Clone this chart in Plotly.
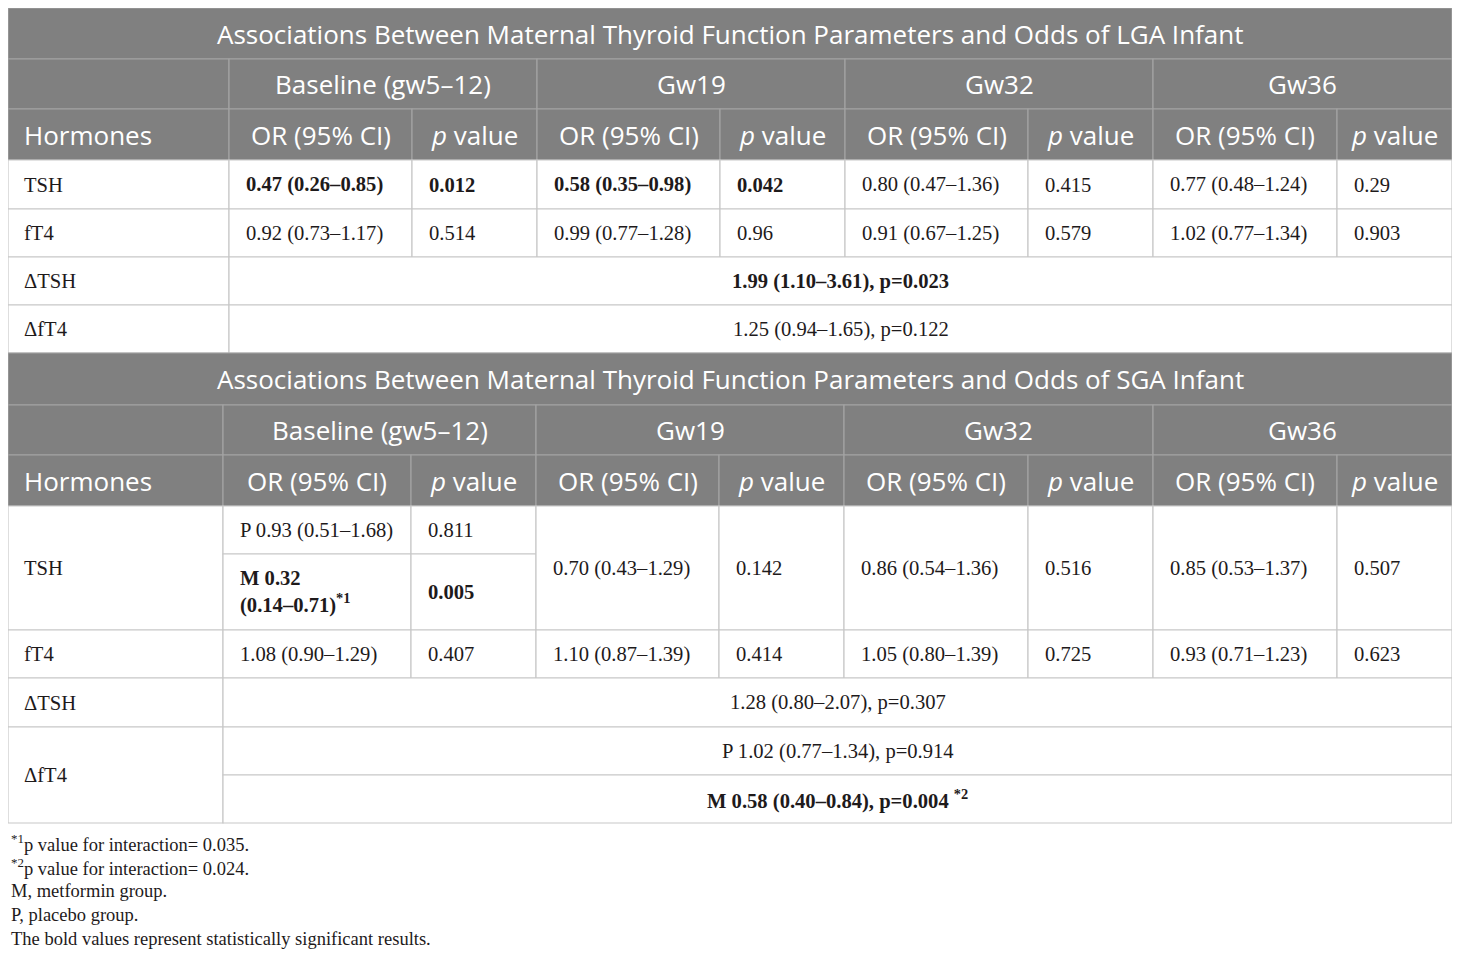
import plotly.graph_objects as go

# ---------------- data ----------------
timepoints = ["Baseline (gw5–12)", "Gw19", "Gw32", "Gw36"]
sub_headers = ["OR (95% CI)", "<i>p</i> value"]
row_header = "Hormones"

lga_title = "Associations Between Maternal Thyroid Function Parameters and Odds of LGA Infant"
lga_hormones = ["TSH", "fT4"]
lga_or = [
    ["0.47 (0.26–0.85)", "0.58 (0.35–0.98)", "0.80 (0.47–1.36)", "0.77 (0.48–1.24)"],
    ["0.92 (0.73–1.17)", "0.99 (0.77–1.28)", "0.91 (0.67–1.25)", "1.02 (0.77–1.34)"],
]
lga_p = [
    ["0.012", "0.042", "0.415", "0.29"],
    ["0.514", "0.96", "0.579", "0.903"],
]
lga_bold = [
    [True, True, False, False],
    [False, False, False, False],
]
lga_delta_labels = ["ΔTSH", "ΔfT4"]
lga_delta_vals = ["1.99 (1.10–3.61), p=0.023", "1.25 (0.94–1.65), p=0.122"]
lga_delta_bold = [True, False]

sga_title = "Associations Between Maternal Thyroid Function Parameters and Odds of SGA Infant"
sga_tsh_or = ["P 0.93 (0.51–1.68)", "0.70 (0.43–1.29)", "0.86 (0.54–1.36)", "0.85 (0.53–1.37)"]
sga_tsh_p = ["0.811", "0.142", "0.516", "0.507"]
sga_tsh_m_or = "M 0.32<br>(0.14–0.71)<sup>*1</sup>"
sga_tsh_m_p = "0.005"
sga_ft4_or = ["1.08 (0.90–1.29)", "1.10 (0.87–1.39)", "1.05 (0.80–1.39)", "0.93 (0.71–1.23)"]
sga_ft4_p = ["0.407", "0.414", "0.725", "0.623"]
sga_dtsh = "1.28 (0.80–2.07), p=0.307"
sga_dft4 = ["P 1.02 (0.77–1.34), p=0.914", "M 0.58 (0.40–0.84), p=0.004 <sup>*2</sup>"]
sga_dft4_bold = [False, True]

footnotes = [
    "<sup>*1</sup>p value for interaction= 0.035.",
    "<sup>*2</sup>p value for interaction= 0.024.",
    "M, metformin group.",
    "P, placebo group.",
    "The bold values represent statistically significant results.",
]

# ---------------- styles / layout geometry ----------------
W, H = 1460, 959
BODY_MARGIN = 8          # page body margin of the html document
HEAD_BG = "#808080"
HEAD_LINE = "#a3a3a3"
BODY_LINE = "#c8c8c8"
TXT = "#1e1a1b"
SANS = "Open Sans"
SERIF = "Liberation Serif"
HEAD_SIZE = 26
BODY_SIZE = 20.6
FOOT_SIZE = 18.5
PAD = 15

cols1 = [8, 229, 412, 537, 720, 845, 1028, 1153, 1337, 1452]
cols2 = [8, 223, 411, 536, 719, 844, 1028, 1153, 1337, 1452]

shapes = []
ann = []


def rect(x0, x1, y0, y1, fill, line):
    shapes.append(dict(type="rect", xref="x", yref="y", x0=x0, x1=x1, y0=y0, y1=y1,
                       fillcolor=fill, line=dict(color=line, width=1.2), layer="below"))


def text(t, x, y, anchor="left", bold=False, font=SERIF, size=BODY_SIZE, color=TXT):
    if bold:
        t = "<b>" + t + "</b>"
    ann.append(dict(text=t, x=x, y=y, xref="x", yref="y", xanchor=anchor, yanchor="middle",
                    align=anchor if anchor != "center" else "center", showarrow=False,
                    font=dict(family=font, size=size, color=color)))


def header(cols, y_title, y_group, y_sub, y_end, title):
    rect(cols[0], cols[-1], y_title, y_group, HEAD_BG, HEAD_LINE)
    text(title, (cols[0] + cols[-1]) / 2, (y_title + y_group) / 2, "center",
         font=SANS, size=HEAD_SIZE, color="white")
    rect(cols[0], cols[1], y_group, y_sub, HEAD_BG, HEAD_LINE)
    for i, tp in enumerate(timepoints):
        x0, x1 = cols[1 + 2 * i], cols[3 + 2 * i]
        rect(x0, x1, y_group, y_sub, HEAD_BG, HEAD_LINE)
        text(tp, (x0 + x1) / 2, (y_group + y_sub) / 2, "center", font=SANS, size=HEAD_SIZE, color="white")
    rect(cols[0], cols[1], y_sub, y_end, HEAD_BG, HEAD_LINE)
    text(row_header, cols[0] + PAD - 1, (y_sub + y_end) / 2, font=SANS, size=HEAD_SIZE, color="white")
    for j in range(8):
        x0, x1 = cols[1 + j], cols[2 + j]
        rect(x0, x1, y_sub, y_end, HEAD_BG, HEAD_LINE)
        text(sub_headers[j % 2], (x0 + x1) / 2, (y_sub + y_end) / 2, "center",
             font=SANS, size=HEAD_SIZE, color="white")


# ---------- table 1 (LGA) ----------
header(cols1, 8, 59, 109, 160, lga_title)
rows1 = [160, 209, 257, 305, 353]
for r, hname in enumerate(lga_hormones):
    y0, y1 = rows1[r], rows1[r + 1]
    ym = (y0 + y1) / 2
    rect(cols1[0], cols1[1], y0, y1, "white", BODY_LINE)
    text(hname, cols1[0] + PAD - 1, ym)
    for i in range(4):
        for k, val in enumerate([lga_or[r][i], lga_p[r][i]]):
            x0, x1 = cols1[1 + 2 * i + k], cols1[2 + 2 * i + k]
            rect(x0, x1, y0, y1, "white", BODY_LINE)
            text(val, x0 + PAD, ym, bold=lga_bold[r][i])
for d, lab in enumerate(lga_delta_labels):
    y0, y1 = rows1[2 + d], rows1[3 + d]
    ym = (y0 + y1) / 2
    rect(cols1[0], cols1[1], y0, y1, "white", BODY_LINE)
    text(lab, cols1[0] + PAD - 1, ym)
    rect(cols1[1], cols1[-1], y0, y1, "white", BODY_LINE)
    text(lga_delta_vals[d], (cols1[1] + cols1[-1]) / 2, ym, "center", bold=lga_delta_bold[d])

# ---------- table 2 (SGA) ----------
header(cols2, 353, 405, 455, 506, sga_title)
r_tsh_p, r_tsh_m, r_ft4, r_dtsh, r_dft4p, r_dft4m, r_end = 506, 554, 630, 678, 727, 775, 823
rect(cols2[0], cols2[1], r_tsh_p, r_ft4, "white", BODY_LINE)
text("TSH", cols2[0] + PAD - 1, (r_tsh_p + r_ft4) / 2)
rect(cols2[1], cols2[2], r_tsh_p, r_tsh_m, "white", BODY_LINE)
text(sga_tsh_or[0], cols2[1] + PAD, (r_tsh_p + r_tsh_m) / 2)
rect(cols2[2], cols2[3], r_tsh_p, r_tsh_m, "white", BODY_LINE)
text(sga_tsh_p[0], cols2[2] + PAD, (r_tsh_p + r_tsh_m) / 2)
rect(cols2[1], cols2[2], r_tsh_m, r_ft4, "white", BODY_LINE)
text(sga_tsh_m_or, cols2[1] + PAD, (r_tsh_m + r_ft4) / 2, bold=True)
rect(cols2[2], cols2[3], r_tsh_m, r_ft4, "white", BODY_LINE)
text(sga_tsh_m_p, cols2[2] + PAD, (r_tsh_m + r_ft4) / 2, bold=True)
for i in range(1, 4):
    for k, val in enumerate([sga_tsh_or[i], sga_tsh_p[i]]):
        x0, x1 = cols2[1 + 2 * i + k], cols2[2 + 2 * i + k]
        rect(x0, x1, r_tsh_p, r_ft4, "white", BODY_LINE)
        text(val, x0 + PAD, (r_tsh_p + r_ft4) / 2)
ym = (r_ft4 + r_dtsh) / 2
rect(cols2[0], cols2[1], r_ft4, r_dtsh, "white", BODY_LINE)
text("fT4", cols2[0] + PAD - 1, ym)
for i in range(4):
    for k, val in enumerate([sga_ft4_or[i], sga_ft4_p[i]]):
        x0, x1 = cols2[1 + 2 * i + k], cols2[2 + 2 * i + k]
        rect(x0, x1, r_ft4, r_dtsh, "white", BODY_LINE)
        text(val, x0 + PAD, ym)
ym = (r_dtsh + r_dft4p) / 2
rect(cols2[0], cols2[1], r_dtsh, r_dft4p, "white", BODY_LINE)
text("ΔTSH", cols2[0] + PAD - 1, ym)
rect(cols2[1], cols2[-1], r_dtsh, r_dft4p, "white", BODY_LINE)
text(sga_dtsh, (cols2[1] + cols2[-1]) / 2, ym, "center")
rect(cols2[0], cols2[1], r_dft4p, r_end, "white", BODY_LINE)
text("ΔfT4", cols2[0] + PAD - 1, (r_dft4p + r_end) / 2)
for d, (y0, y1) in enumerate([(r_dft4p, r_dft4m), (r_dft4m, r_end)]):
    rect(cols2[1], cols2[-1], y0, y1, "white", BODY_LINE)
    text(sga_dft4[d], (cols2[1] + cols2[-1]) / 2, (y0 + y1) / 2, "center", bold=sga_dft4_bold[d])

# ---------- footnotes ----------
for n, fn in enumerate(footnotes):
    text(fn, BODY_MARGIN + 0.5, 843 + 24 * n, size=FOOT_SIZE)

fig = go.Figure()
fig.update_layout(
    width=W - 2 * BODY_MARGIN, height=H - 2 * BODY_MARGIN,
    margin=dict(l=0, r=0, t=0, b=0),
    paper_bgcolor="white", plot_bgcolor="white",
    xaxis=dict(range=[BODY_MARGIN, W - BODY_MARGIN], visible=False, fixedrange=True),
    yaxis=dict(range=[H - BODY_MARGIN, BODY_MARGIN], visible=False, fixedrange=True),
    shapes=shapes, annotations=ann, showlegend=False,
)
fig.write_html("out.html")
